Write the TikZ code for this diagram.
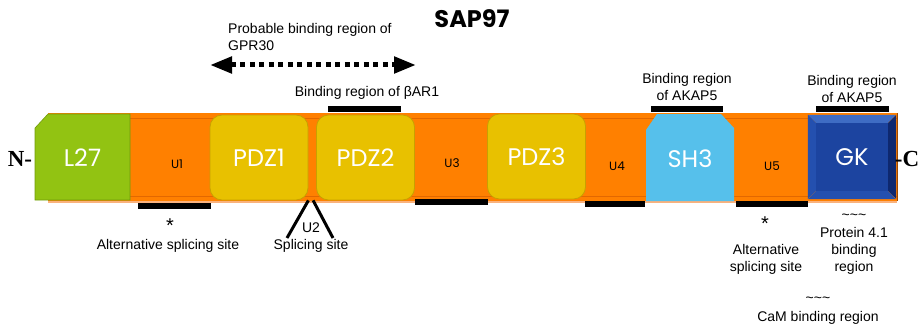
\documentclass[tikz,border=0pt]{standalone}
\usepackage{fontspec}
\setmainfont{Liberation Sans}
\newfontfamily\domfont{Poppins}
\newfontfamily\endfont{Liberation Serif}
\usetikzlibrary{calc, arrows.meta}
\definecolor{barorange}{RGB}{255,128,0}
\definecolor{baredge}{RGB}{226,104,0}
\definecolor{barlight}{RGB}{250,178,125}
\definecolor{l27green}{RGB}{146,195,18}
\definecolor{l27edge}{RGB}{112,155,10}
\definecolor{pdzyellow}{RGB}{232,193,0}
\definecolor{pdzedge}{RGB}{200,160,0}
\definecolor{sh3blue}{RGB}{86,192,235}
\definecolor{gkblue}{RGB}{28,68,160}
\definecolor{gklight}{RGB}{62,108,196}
\definecolor{gkmid}{RGB}{36,80,175}
\definecolor{gkdark}{RGB}{14,40,112}

\begin{document}
\begin{tikzpicture}[
    x=1pt, y=-1pt,
    domainbox/.style={inner sep=0pt, text=white, font=\domfont\fontsize{24}{24}\selectfont},
    pdz/.style={domainbox, rectangle, rounded corners=12pt, fill=pdzyellow, draw=pdzedge, line width=0.8pt, minimum width=98pt, minimum height=85pt},
    linker/.style={inner sep=0pt, font=\domfont\fontsize{12}{12}\selectfont},
    label node/.style={inner sep=0pt, align=center, font=\fontsize{14}{17}\selectfont},
    star/.style={inner sep=0pt, font=\fontsize{20}{20}\selectfont},
    end label/.style={inner sep=0pt, font=\endfont\bfseries\fontsize{23}{23}\selectfont},
    site bar/.style={line width=6pt},
    splice/.style={line width=3pt},
    gpr arrow/.style={line width=5pt, dash pattern=on 5pt off 4.5pt, {Triangle[length=22pt,width=16pt]}-{Triangle[length=22pt,width=16pt]}}
]
\useasboundingbox (0,0) rectangle (919,329);

% Protein backbone
\fill[barorange] (48,113) rectangle (897,201);
\draw[baredge, line width=1pt] (48,118) -- (897,118);
\draw[baredge, line width=1pt] (48,196) -- (897,196);
\fill[barlight] (48,201) rectangle (897,203);
\draw[baredge!70!black, line width=0.8pt] (897,113) -- (897,201);

% Domains
\filldraw[fill=l27green, draw=l27edge, line width=0.6pt] (35,128) -- (48,114) -- (130,114) -- (130,200) -- (35,200) -- cycle;
\node[domainbox] (L27) at (82.5,158) {L27};
\node[pdz] (PDZ1) at (259,157.5) {PDZ1};
\node[pdz] (PDZ2) at (365.5,157.5) {PDZ2};
\node[pdz] (PDZ3) at (536.5,156.5) {PDZ3};
\fill[sh3blue] (646,130) -- (657,114) -- (721,114) -- (734,128) -- (734,201) -- (646,201) -- cycle;
\node[domainbox] (SH3) at (690,159) {SH3};
\node[domainbox, fill=gkblue, minimum width=72pt, minimum height=68pt] (GK) at (852,157) {GK};

% GK bevel
\fill[gklight] (GK.north west) -- ++(-8,-8) -- ++(88,0) -- (GK.north east) -- cycle;
\fill[gkmid] (GK.north west) -- ++(-8,-8) -- ++(0,84) -- (GK.south west) -- cycle;
\fill[gkdark] (GK.north east) -- ++(8,-8) -- ++(0,84) -- (GK.south east) -- cycle;
\fill[gkmid] (GK.south west) -- ++(-8,8) -- ++(88,0) -- (GK.south east) -- cycle;

% Linkers
\node[linker] (U1) at (177,164) {U1};
\node[linker] (U3) at (452,163) {U3};
\node[linker] (U4) at (617,166) {U4};
\node[linker] (U5) at (772,166) {U5};

% Termini
\node[end label] (Nterm) at (20,159) {N-};
\node[end label] (Cterm) at (907,159) {-C};

% Title
\node[font=\domfont\bfseries\fontsize{24}{24}\selectfont, inner sep=0pt] (title) at (472,19) {SAP97};

% Regions above
\node[label node, align=left, anchor=west] (gpr) at (228,37) {Probable binding region of\\GPR30};
\coordinate (gpr left) at (210,65);
\coordinate (gpr right) at (416,65);
\draw[gpr arrow] (gpr left) -- (gpr right);
\node[label node] (bar1) at (367,93) {Binding region of βAR1};
\draw[site bar] (328,109) -- (401,109);
\node[label node] (akap1) at (687,87) {Binding region\\of AKAP5};
\draw[site bar] (651,109) -- (723,109);
\node[label node] (akap2) at (852,89) {Binding region\\of AKAP5};
\draw[site bar] (816,109) -- (889,109);

% Regions below
\draw[site bar] (138,206) -- (211,206);
\draw[site bar] (415,202) -- (488,202);
\draw[site bar] (585,204) -- (645,204);
\draw[site bar] (736,204) -- (808,204);

% Splicing sites
\coordinate (u2 left) at (287,238);
\coordinate (u2 right) at (333,238);
\draw[splice] (PDZ1.south east) -- (u2 left);
\draw[splice] ($(PDZ2.south west)+(-3,0)$) -- (u2 right);
\node[label node] (U2) at (311,228) {U2};
\node[label node] (splice1) at (311,246) {Splicing site};
\node[star] (star1) at (170,226) {*};
\node[label node] (alt1) at (168,246) {Alternative splicing site};
\node[star] (star2) at (765,224) {*};
\node[label node] (alt2) at (766,259) {Alternative\\splicing site};

% Other binding regions
\node[label node] (tilde1) at (854,217) {\textasciitilde\textasciitilde\textasciitilde};
\node[label node] (p41) at (854,251) {Protein 4.1\\binding\\region};
\node[label node] (tilde2) at (818,300) {\textasciitilde\textasciitilde\textasciitilde};
\node[label node] (cam) at (818,318) {CaM binding region};
\end{tikzpicture}
\end{document}
